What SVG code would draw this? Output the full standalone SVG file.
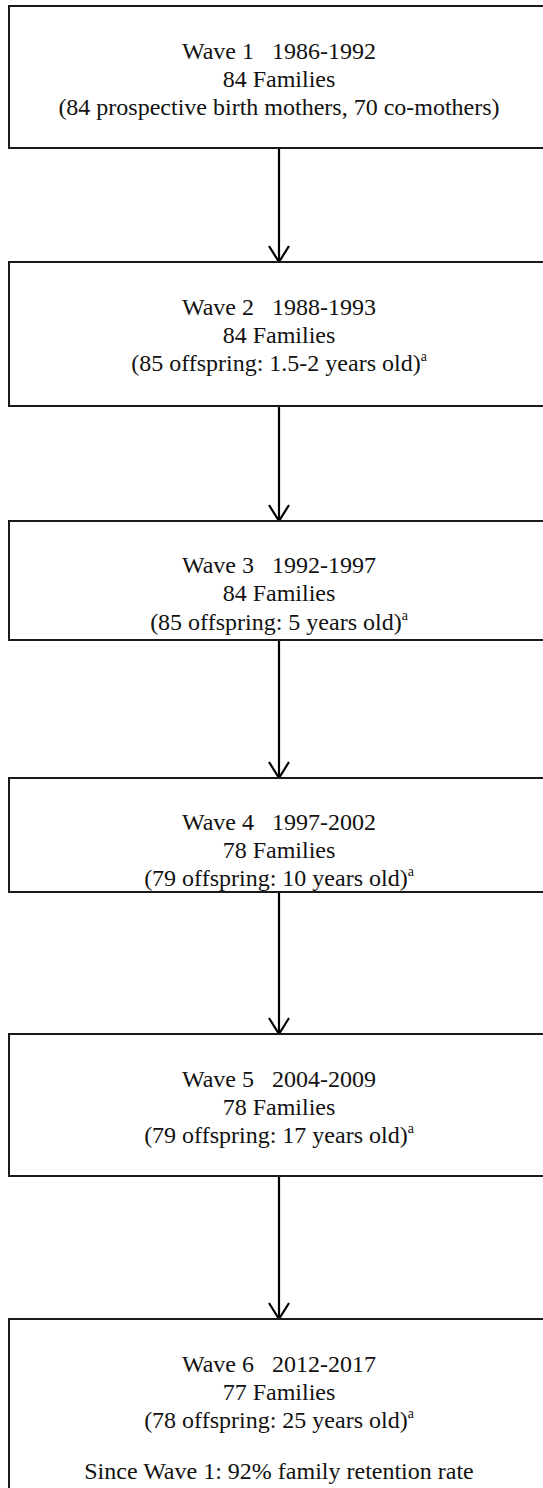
<svg xmlns="http://www.w3.org/2000/svg" width="543" height="1488" viewBox="0 0 543 1488">
<style>
.box{fill:#fff;stroke:#1a1a1a;stroke-width:2}
.t{font-family:"Liberation Serif","Times New Roman",serif;font-size:24px;fill:#111;text-anchor:middle}
.sup{font-size:14px}
.conn{stroke:#000;stroke-width:2.2;fill:none;marker-end:url(#arr)}
</style>
<defs>
<marker id="arr" markerUnits="userSpaceOnUse" viewBox="-18 -12 20 24" refX="0" refY="0" markerWidth="20" markerHeight="24" orient="auto">
<path d="M-16,-10 L0,0 L-16,10" fill="none" stroke="#000" stroke-width="2.2"/>
</marker>
</defs>
<rect width="543" height="1488" fill="#fff"/>
<g id="connectors">
<line class="conn" x1="279" y1="148" x2="279" y2="262"/>
<line class="conn" x1="279" y1="406" x2="279" y2="521"/>
<line class="conn" x1="279" y1="640" x2="279" y2="778"/>
<line class="conn" x1="279" y1="892" x2="279" y2="1034"/>
<line class="conn" x1="279" y1="1176" x2="279" y2="1319"/>
</g>
<g id="wave1">
<rect class="box" x="9" y="6" width="540" height="142"/>
<text class="t" x="279" y="59" xml:space="preserve">Wave 1   1986-1992</text>
<text class="t" x="279" y="87">84 Families</text>
<text class="t" x="279" y="115">(84 prospective birth mothers, 70 co-mothers)</text>
</g>
<g id="wave2">
<rect class="box" x="9" y="262" width="540" height="144"/>
<text class="t" x="279" y="315" xml:space="preserve">Wave 2   1988-1993</text>
<text class="t" x="279" y="343">84 Families</text>
<text class="t" x="279" y="371">(85 offspring: 1.5-2 years old)<tspan class="sup" dy="-10">a</tspan></text>
</g>
<g id="wave3">
<rect class="box" x="9" y="521" width="540" height="119"/>
<text class="t" x="279" y="573" xml:space="preserve">Wave 3   1992-1997</text>
<text class="t" x="279" y="601">84 Families</text>
<text class="t" x="279" y="630">(85 offspring: 5 years old)<tspan class="sup" dy="-10">a</tspan></text>
</g>
<g id="wave4">
<rect class="box" x="9" y="778" width="540" height="114"/>
<text class="t" x="279" y="830" xml:space="preserve">Wave 4   1997-2002</text>
<text class="t" x="279" y="858">78 Families</text>
<text class="t" x="279" y="886">(79 offspring: 10 years old)<tspan class="sup" dy="-10">a</tspan></text>
</g>
<g id="wave5">
<rect class="box" x="9" y="1034" width="540" height="142"/>
<text class="t" x="279" y="1087" xml:space="preserve">Wave 5   2004-2009</text>
<text class="t" x="279" y="1115">78 Families</text>
<text class="t" x="279" y="1143">(79 offspring: 17 years old)<tspan class="sup" dy="-10">a</tspan></text>
</g>
<g id="wave6">
<rect class="box" x="9" y="1319" width="540" height="180"/>
<text class="t" x="279" y="1372" xml:space="preserve">Wave 6   2012-2017</text>
<text class="t" x="279" y="1400">77 Families</text>
<text class="t" x="279" y="1428">(78 offspring: 25 years old)<tspan class="sup" dy="-10">a</tspan></text>
<text class="t" x="279" y="1479">Since Wave 1: 92% family retention rate</text>
</g>
</svg>
